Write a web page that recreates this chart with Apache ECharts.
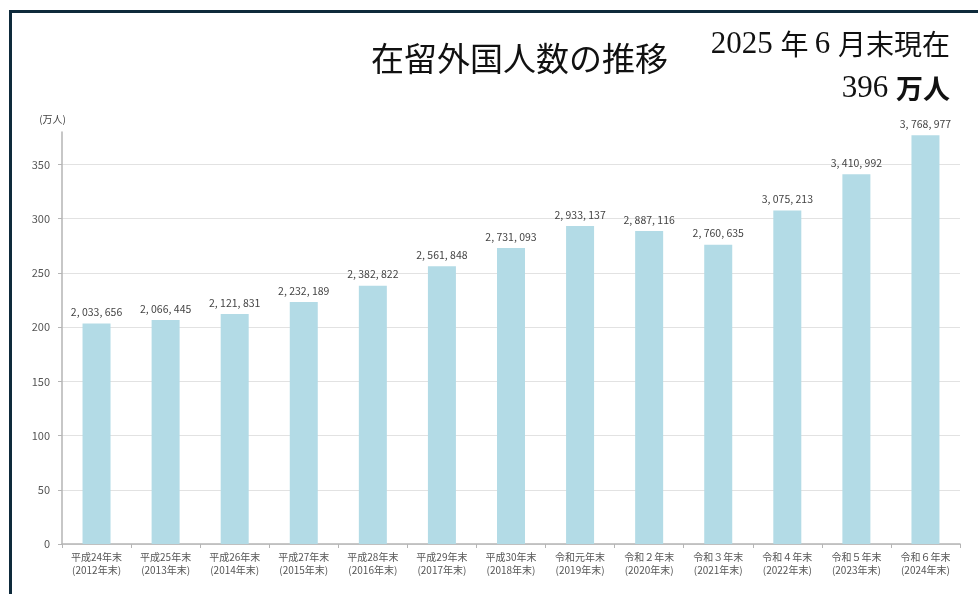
<!DOCTYPE html>
<html>
<head>
<meta charset="utf-8">
<script src="https://cdn.jsdelivr.net/npm/echarts@6/dist/echarts.min.js"></script>
<style>
  html, body { margin: 0; padding: 0; background: #fff; }
  #main { width: 978px; height: 594px; }
</style>
</head>
<body>
<div id="main"></div>
<script>
// 年末ごとの在留外国人数（人）
var eraLabels = ['平成24年末', '平成25年末', '平成26年末', '平成27年末', '平成28年末', '平成29年末',
    '平成30年末', '令和元年末', '令和２年末', '令和３年末', '令和４年末', '令和５年末', '令和６年末'];
var yearLabels = ['(2012年末)', '(2013年末)', '(2014年末)', '(2015年末)', '(2016年末)', '(2017年末)',
    '(2018年末)', '(2019年末)', '(2020年末)', '(2021年末)', '(2022年末)', '(2023年末)', '(2024年末)'];
var residents = [2033656, 2066445, 2121831, 2232189, 2382822, 2561848,
    2731093, 2933137, 2887116, 2760635, 3075213, 3410992, 3768977];
var yTicks = [0, 50, 100, 150, 200, 250, 300, 350];

var chartDom = document.getElementById('main');
var myChart = echarts.init(chartDom);
var option;

var categories = eraLabels.map(function (e, i) { return e + '\n' + yearLabels[i]; });
var barValues = residents.map(function (v) { return v / 10000; });

function fmt(v) {
    return String(v).replace(/\B(?=(\d{3})+(?!\d))/g, ', ');
}

// split line at the axis top (380) is hidden
var splitColors = yTicks.map(function () { return '#e2e2e2'; });
splitColors.push('transparent');

option = {
    animation: false,
    textStyle: { fontFamily: '"Liberation Sans Narrow", "Noto Sans CJK JP", sans-serif' },
    graphic: [
        { type: 'rect', shape: { x: 9, y: 10, width: 3, height: 600 }, style: { fill: '#0e2a3b' } },
        { type: 'rect', shape: { x: 9, y: 10, width: 980, height: 3 }, style: { fill: '#0e2a3b' } },
        {
            type: 'text', left: 371, top: 42,
            style: { text: '在留外国人数の推移', font: '33px "Noto Sans CJK JP"', fill: '#111' }
        },
        {
            type: 'text', right: 28, top: 29,
            style: {
                text: '{n|2025 }{k|年 }{n|6 }{k|月末現在}',
                rich: {
                    n: { font: '31px "Liberation Serif"', fill: '#111' },
                    k: { font: '28px "Noto Sans CJK JP"', fill: '#111' }
                }
            }
        },
        {
            type: 'text', right: 28, top: 73,
            style: {
                text: '{n|396 }{k|万人}',
                rich: {
                    n: { font: '31px "Liberation Serif"', fill: '#111' },
                    k: { font: 'bold 27px "Noto Sans CJK JP"', fill: '#111' }
                }
            }
        }
    ],
    grid: {
        left: 62,
        right: 18,
        top: 132,
        bottom: 50
    },
    xAxis: {
        type: 'category',
        data: categories,
        axisLine: { lineStyle: { color: '#b5b5b5', width: 1.5 } },
        axisTick: { show: true, length: 4, lineStyle: { color: '#b5b5b5' } },
        axisLabel: {
            color: '#555',
            fontSize: 10,
            lineHeight: 13,
            margin: 7,
            interval: 0
        }
    },
    yAxis: {
        type: 'value',
        name: '(万人)',
        nameLocation: 'end',
        nameGap: 8,
        nameTextStyle: { color: '#444', fontSize: 10, align: 'right', padding: [0, -4, 0, 0] },
        min: 0,
        max: 380,
        interval: 50,
        axisLine: { show: true, lineStyle: { color: '#b5b5b5', width: 1.5 } },
        axisTick: { show: true, length: 4, lineStyle: { color: '#b5b5b5' } },
        axisLabel: { color: '#555', fontSize: 11, margin: 12, showMaxLabel: false },
        splitLine: { lineStyle: { color: splitColors, width: 1 } }
    },
    series: [
        {
            name: '在留外国人数',
            type: 'bar',
            data: barValues,
            barWidth: 28,
            itemStyle: { color: '#b3dbe6' },
            label: {
                show: true,
                position: 'top',
                distance: 6,
                color: '#444',
                fontSize: 10.5,
                formatter: function (p) { return fmt(residents[p.dataIndex]); }
            }
        }
    ]
};

option && myChart.setOption(option);
</script>
</body>
</html>
